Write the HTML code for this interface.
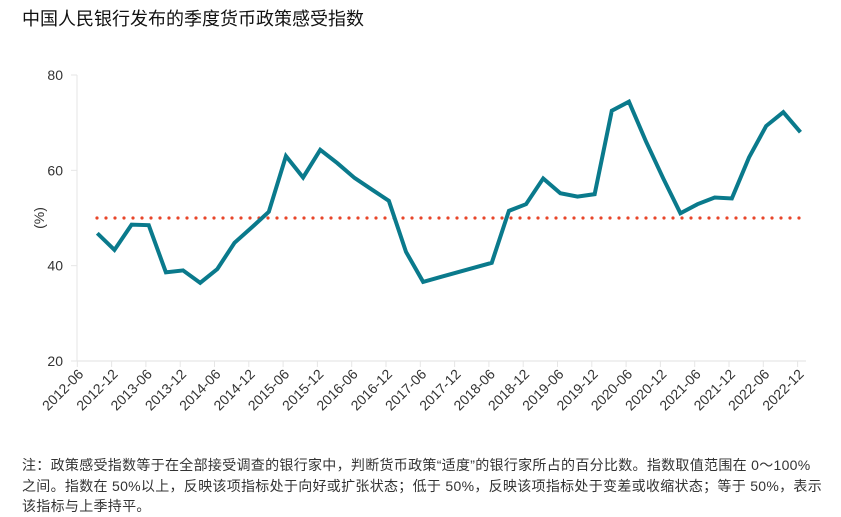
<!DOCTYPE html>
<html><head><meta charset="utf-8">
<style>
body{margin:0;background:#fff;width:841px;height:516px;overflow:hidden;font-family:"Liberation Sans","Noto Sans CJK SC",sans-serif;color:#222}
#title{position:absolute;left:22px;top:5px;font-size:18px;font-weight:normal;color:#111}
#note{position:absolute;left:22px;top:455px;width:815px;font-size:14px;line-height:20.5px;color:#333;white-space:nowrap;letter-spacing:0.3px}
svg{position:absolute;left:0;top:0}
</style></head><body>
<div id="title">中国人民银行发布的季度货币政策感受指数</div>
<svg id="chart" width="841" height="516"></svg>
<div id="note">注：政策感受指数等于在全部接受调查的银行家中，判断货币政策“适度”的银行家所占的百分比数。指数取值范围在 0～100%<br>之间。指数在 50%以上，反映该项指标处于向好或扩张状态；低于 50%，反映该项指标处于变差或收缩状态；等于 50%，表示<br>该指标与上季持平。</div>
<script>
const tickLabels=["2012-06","2012-12","2013-06","2013-12","2014-06","2014-12","2015-06","2015-12","2016-06","2016-12","2017-06","2017-12","2018-06","2018-12","2019-06","2019-12","2020-06","2020-12","2021-06","2021-12","2022-06","2022-12"];
const yTicks=[20,40,60,80];
const values=[46.8,43.3,48.6,48.5,38.6,39.0,36.4,39.3,44.8,48.0,51.3,63.0,58.5,64.3,61.5,58.4,56.0,53.6,42.9,36.6,37.6,38.6,39.6,40.6,51.5,52.9,58.3,55.2,54.5,55.0,72.5,74.4,66.0,58.3,51.0,52.9,54.3,54.1,62.7,69.3,72.2,68.0];
const threshold=[50];
const NS="http://www.w3.org/2000/svg";
const svg=document.getElementById('chart');
const y=v=>361-(v-20)*(286/60);
const xq=i=>97.3+i*17.15;
const xt=k=>77.3+k*34.3;
function mk(t,a){const e=document.createElementNS(NS,t);for(const k in a)e.setAttribute(k,a[k]);svg.appendChild(e);return e;}
const yax=mk('line',{x1:77,y1:75,x2:77,y2:361,stroke:'#e6e6e6','stroke-width':1});


yTicks.forEach(v=>{
 const t=mk('text',{x:63,y:y(v)+5,'text-anchor':'end','font-size':14,fill:'#333'});
 t.textContent=v;
 
 
 const tk=mk('line',{x1:71,x2:77,y1:y(v),y2:y(v),stroke:'#e6e6e6'});
 
 
});
const yt=mk('text',{x:0,y:0,'font-size':14,fill:'#333','text-anchor':'middle',transform:'translate(44,218) rotate(-90)'});
yt.textContent='(%)';


const xax=mk('line',{x1:77,y1:361,x2:806,y2:361,stroke:'#e6e6e6','stroke-width':1.2});


tickLabels.forEach((l,k)=>{
 const x=xt(k);
 const tk=mk('line',{x1:x,x2:x,y1:361,y2:367,stroke:'#e6e6e6'});
 
 
 const t=mk('text',{x:0,y:0,'font-size':14,fill:'#333','text-anchor':'end',transform:`translate(${x+7},${375}) rotate(-45)`});
 t.textContent=l;
 
 
});
const th=mk('line',{x1:97,x2:803,y1:y(threshold[0]),y2:y(threshold[0]),stroke:'#e8462a','stroke-width':3.2,'stroke-dasharray':'0 9','stroke-linecap':'round'});


const pl=mk('polyline',{points:values.map((v,i)=>xq(i)+','+y(v)).join(' '),fill:'none',stroke:'#0a7a8c','stroke-width':4,'stroke-linejoin':'miter'});


</script>
</body></html>
